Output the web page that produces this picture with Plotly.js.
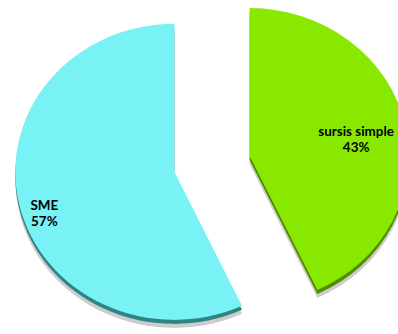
<!DOCTYPE html>
<html>
<head>
<meta charset="utf-8">
<script src="https://cdn.plot.ly/plotly-3.0.1.min.js"></script>
<style>
html, body { margin: 0; padding: 0; overflow: hidden; background: #ffffff; width: 398px; height: 334px; }
#chart { position: absolute; left: 27.5px; top: -20.5px; transform-origin: 184px 184px; transform: scaleX(1.074); }
</style>
</head>
<body>
<div id="chart"></div>
<script>
// Data
const labels = ["sursis simple", "SME"];
const values = [43, 57];
const topColors = ["#88E800", "#78F2F5"];
const sideColors = ["#4E8C00", "#2F8484"];
const shadowColors = ["#cccccc", "#cccccc"];
const pulls = [0.243, 0.243];
// label anchor positions (paper fractions) for the slice labels
const labelX = [0.866, 0.076];
const labelY = [0.576, 0.379];

const W = 368, H = 376;
function dom(offsetTop, offsetBottom) {
  return { x: [0, 1], y: [offsetBottom / H, 1 - offsetTop / H] };
}

function pie(colors, domain) {
  return {
    type: "pie",
    labels: labels,
    values: values,
    sort: false,
    direction: "clockwise",
    rotation: 0,
    pull: pulls,
    domain: domain,
    marker: { colors: colors, line: { width: 0 } },
    textinfo: "none",
    hoverinfo: "none",
    showlegend: false
  };
}

const data = [
  pie(shadowColors, dom(8, 0)),
  pie(sideColors, dom(4, 4)),
  pie(topColors, dom(0, 8))
];

const total = values.reduce((a, b) => a + b, 0);
const annotations = labels.map((l, i) => ({
  xref: "paper", yref: "paper",
  x: labelX[i], y: labelY[i],
  xanchor: "center", yanchor: "middle",
  text: l + "<br>" + Math.round(values[i] / total * 100) + "%",
  showarrow: false,
  align: "center",
  font: { family: "Lato, 'Open Sans', sans-serif", size: 12.5, color: "#000000", weight: "bold" }
}));

const layout = {
  width: W,
  height: H,
  margin: { l: 0, r: 0, t: 0, b: 0, pad: 0 },
  paper_bgcolor: "rgba(0,0,0,0)",
  plot_bgcolor: "rgba(0,0,0,0)",
  showlegend: false,
  annotations: annotations
};

Plotly.newPlot("chart", data, layout, { displayModeBar: false, staticPlot: true });
</script>
</body>
</html>
